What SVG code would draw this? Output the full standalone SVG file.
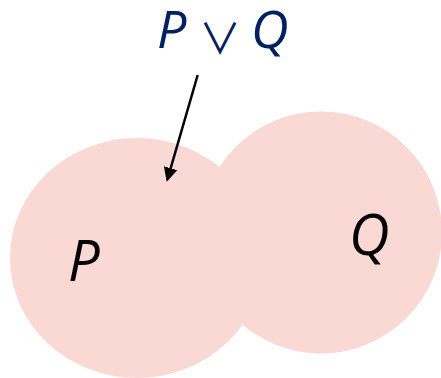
<svg xmlns="http://www.w3.org/2000/svg" width="441" height="378" viewBox="0 0 441 378">
<style>
.set{fill:#FAD9D4;stroke:none}
.lbl{font-family:"Open Sans","Noto Sans","Liberation Sans",sans-serif;font-style:italic;fill:#000}
.title{font-family:"Open Sans","Noto Sans","Liberation Sans",sans-serif;font-style:italic;fill:#002060;font-size:52px}
.op{font-family:"Noto Sans CJK SC","DejaVu Sans",sans-serif;font-style:normal;font-weight:400}
.conn{stroke:#000;stroke-width:2.5;fill:none}
</style>
<defs>
<marker id="arrow" markerUnits="userSpaceOnUse" viewBox="0 0 14 14" markerWidth="14" markerHeight="14" refX="12" refY="7" orient="auto">
<path d="M0,0 L14,7 L0,14 z" fill="#000"/>
</marker>
</defs>
<g id="setP">
<ellipse class="set" cx="137" cy="258" rx="127" ry="120"/>
<text class="lbl" x="68" y="281" font-size="56">P</text>
</g>
<g id="setQ">
<circle class="set" cx="321" cy="232.5" r="121"/>
<text class="lbl" x="349" y="255" font-size="56">Q</text>
</g>
<g id="title">
<text class="title" y="48"><tspan x="157">P</tspan><tspan class="op" x="199" y="54" font-size="42">∨</tspan><tspan x="251" y="48">Q</tspan></text>
</g>
<g id="connectors">
<path class="conn" d="M197.7,75 L167.3,179.8" marker-end="url(#arrow)"/>
</g>
</svg>
